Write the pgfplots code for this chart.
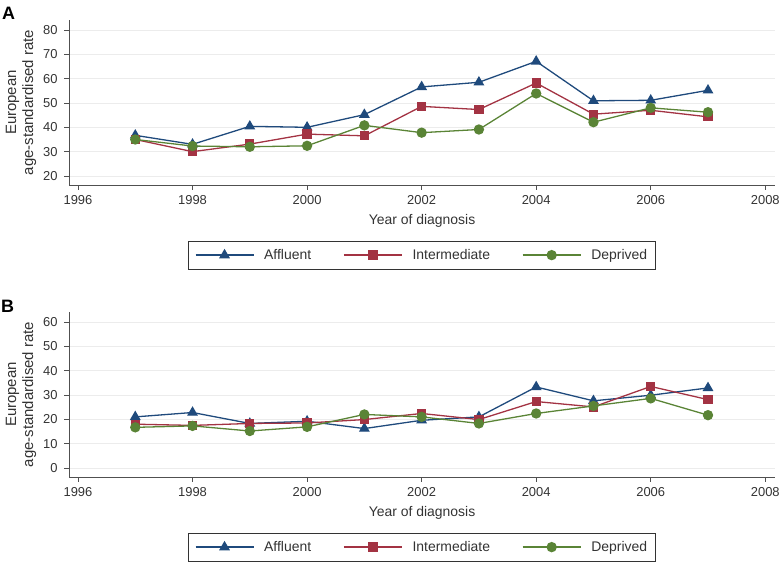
\documentclass[border=0pt]{standalone}
\usepackage{fontspec}
\setmainfont{Liberation Sans}
\usepackage{pgfplots}
\pgfplotsset{compat=1.18}

\definecolor{aff}{HTML}{1F4A7C}
\definecolor{inter}{HTML}{A33343}
\definecolor{dep}{HTML}{5A8436}
\definecolor{axcol}{HTML}{505050}
\definecolor{labcol}{HTML}{333333}
\definecolor{gridcol}{HTML}{ECECEC}

\pgfplotsset{
  panel/.style={
    scale only axis, width=706bp, height=165bp,
    axis x line=bottom, axis y line=left,
    axis line style={-, draw=axcol, line width=0.8pt},
    xmin=1995.843, xmax=2008.17,
    xtick={1996,1998,...,2008},
    tick align=outside, major tick length=5bp,
    tick style={draw=axcol, line width=0.8pt},
    /pgf/number format/1000 sep={},
    /pgf/number format/assume math mode=true,
    ticklabel style={font=\fontsize{13}{14}\selectfont, text=labcol},
    xticklabel style={yshift=-2bp},
    yticklabel style={xshift=-3bp},
    ymajorgrids, grid style={draw=gridcol, line width=0.8pt},
    xlabel={Year of diagnosis},
    ylabel={European\\age-standardised rate},
    label style={font=\fontsize{14}{17}\selectfont, text=labcol},
    ylabel style={align=center, font=\fontsize{15}{17}\selectfont,
      at={(axis description cs:-0.068,0.5)}, anchor=center},
    xlabel style={at={(axis description cs:0.5,-0.218)}, anchor=center},
    legend columns=3,
    legend cell align=left,
    legend style={at={(0.5,-0.339)}, anchor=north, draw=black!80, line width=0.8pt,
      font=\fontsize{14}{16}\selectfont, text=labcol, inner xsep=6bp, inner ysep=6bp,
      /tikz/every even column/.append style={column sep=30bp},
      /tikz/every odd column/.append style={column sep=8bp}},
    legend image code/.code={
      \draw[mark repeat=2, mark phase=2, #1] plot coordinates {(0bp,0bp) (29bp,0bp) (58bp,0bp)};
    },
    aff/.style={color=aff, line width=1.3pt, mark=triangle*, mark size=5bp, mark options={solid}},
    inter/.style={color=inter, line width=1.3pt, mark=square*, mark size=4bp, mark options={solid}},
    dep/.style={color=dep, line width=1.3pt, mark=*, mark size=4.5bp, mark options={solid}},
  }
}

\begin{document}
\begin{tikzpicture}[x=1bp, y=1bp]
\useasboundingbox (0,0) rectangle (780,566);

% Panel A
\node[font=\fontsize{18}{18}\selectfont\bfseries] at (8.5,553) {A};
\begin{axis}[panel, at={(69bp,381bp)}, anchor=south west,
  ymin=16.3, ymax=84.1, ytick={20,30,...,80}]
\addplot[aff] coordinates {
  (1997,36.7) (1998,33.0) (1999,40.4) (2000,40.0) (2001,45.2) (2002,56.6)
  (2003,58.5) (2004,67.1) (2005,50.9) (2006,51.1) (2007,55.2)
};
\addlegendentry{Affluent}
\addplot[inter] coordinates {
  (1997,35.0) (1998,30.0) (1999,33.1) (2000,37.2) (2001,36.5) (2002,48.6)
  (2003,47.3) (2004,58.2) (2005,45.4) (2006,47.0) (2007,44.3)
};
\addlegendentry{Intermediate}
\addplot[dep] coordinates {
  (1997,35.0) (1998,32.3) (1999,32.0) (2000,32.4) (2001,40.8) (2002,37.8)
  (2003,39.1) (2004,53.9) (2005,42.1) (2006,48.0) (2007,46.2)
};
\addlegendentry{Deprived}
\end{axis}

% Panel B
\node[font=\fontsize{18}{18}\selectfont\bfseries] at (7.5,260) {B};
\begin{axis}[panel, at={(69bp,89bp)}, anchor=south west,
  ymin=-3.7, ymax=64.1, ytick={0,10,...,60}]
\addplot[aff] coordinates {
  (1997,21.0) (1998,22.8) (1999,18.3) (2000,19.2) (2001,16.2) (2002,19.6)
  (2003,21.0) (2004,33.3) (2005,27.6) (2006,29.9) (2007,32.9)
};
\addlegendentry{Affluent}
\addplot[inter] coordinates {
  (1997,18.0) (1998,17.5) (1999,18.3) (2000,18.5) (2001,19.9) (2002,22.4)
  (2003,19.9) (2004,27.3) (2005,25.1) (2006,33.5) (2007,28.1)
};
\addlegendentry{Intermediate}
\addplot[dep] coordinates {
  (1997,16.7) (1998,17.3) (1999,15.2) (2000,16.9) (2001,22.0) (2002,21.0)
  (2003,18.3) (2004,22.4) (2005,25.5) (2006,28.6) (2007,21.7)
};
\addlegendentry{Deprived}
\end{axis}
\end{tikzpicture}
\end{document}
